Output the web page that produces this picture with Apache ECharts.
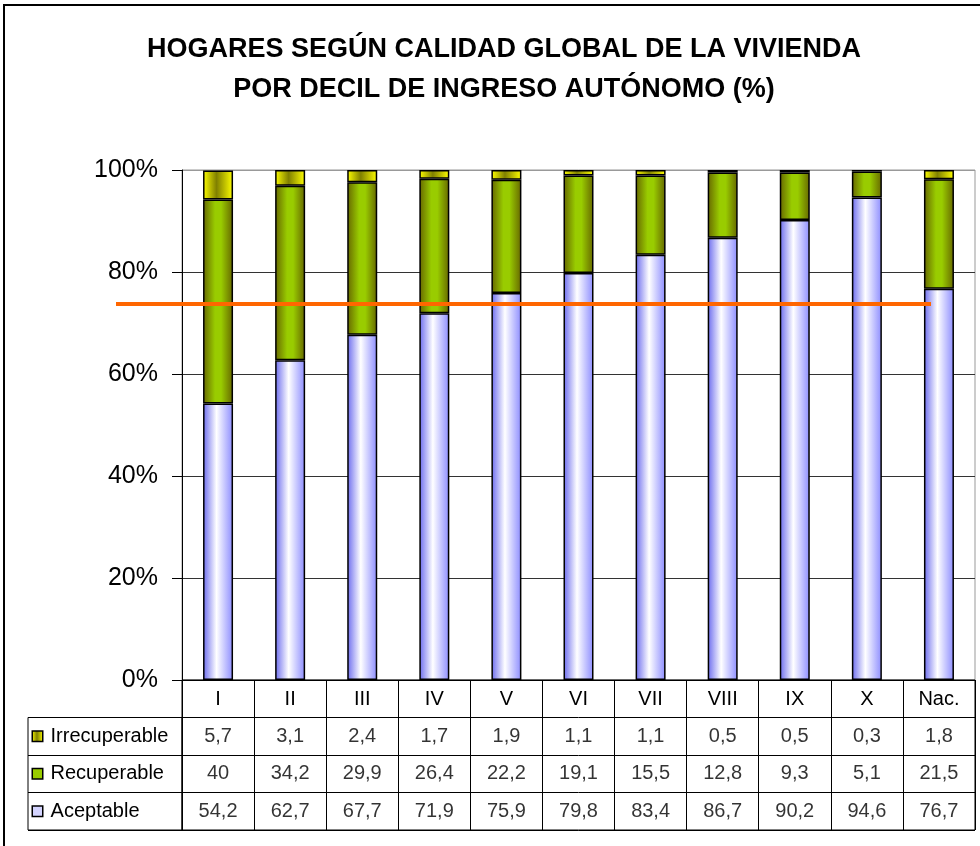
<!DOCTYPE html>
<html lang="es">
<head>
    <meta charset="UTF-8">
    <title>Hogares según calidad global de la vivienda</title>
    <script src="https://cdn.jsdelivr.net/npm/echarts@6.0.0/dist/echarts.min.js"></script>
    <style>
        html, body { margin: 0; padding: 0; background: #fff; }
    </style>
</head>
<body>
<div id="main" style="width: 980px; height: 846px;"></div>

<script type="text/javascript">

    // datos (%)
    var categories = ['I', 'II', 'III', 'IV', 'V', 'VI', 'VII', 'VIII', 'IX', 'X', 'Nac.'];
    var aceptable = [54.2, 62.7, 67.7, 71.9, 75.9, 79.8, 83.4, 86.7, 90.2, 94.6, 76.7];
    var recuperable = [40, 34.2, 29.9, 26.4, 22.2, 19.1, 15.5, 12.8, 9.3, 5.1, 21.5];
    var irrecuperable = [5.7, 3.1, 2.4, 1.7, 1.9, 1.1, 1.1, 0.5, 0.5, 0.3, 1.8];
    var rowNames = ['Irrecuperable', 'Recuperable', 'Aceptable'];
    var referenceLine = 73.7;

    var FONT = 'Arial, "Liberation Sans", sans-serif';

    function hGrad(stops) {
        return new echarts.graphic.LinearGradient(0, 0, 1, 0, stops.map(function (s) {
            return { offset: s[0], color: s[1] };
        }));
    }

    var fillAceptable = hGrad([[0, '#6a6aee'], [0.45, '#ffffff'], [1, '#8c8cff']]);
    var fillRecuperable = hGrad([[0, '#666600'], [0.4, '#99cc00'], [0.6, '#99cc00'], [1, '#666600']]);
    var fillIrrecuperable = hGrad([[0, '#ffff00'], [0.45, '#808000'], [1, '#ffff00']]);

    function fmt(v) {
        return String(v).replace('.', ',');
    }

    // celdas de la tabla
    var tableData = [];
    var rows = [irrecuperable, recuperable, aceptable];
    for (var r = 0; r < rows.length; r++) {
        for (var i = 0; i < categories.length; i++) {
            tableData.push([categories[i], rowNames[r], rows[r][i]]);
        }
    }

    function keyStyle(fill) {
        return { width: 9, height: 9, backgroundColor: fill, borderColor: '#000', borderWidth: 1.5 };
    }

    var myChart = echarts.init(document.getElementById('main'));

    myChart.setOption({
        animation: false,
        textStyle: { fontFamily: FONT },
        graphic: [{
            type: 'rect',
            shape: { x: 4, y: 5, width: 1100, height: 1000 },
            style: { fill: 'none', stroke: '#000', lineWidth: 2 },
            silent: true
        }, {
            type: 'text',
            x: 504,
            y: 30,
            silent: true,
            style: {
                text: 'HOGARES SEGÚN CALIDAD GLOBAL DE LA VIVIENDA\nPOR DECIL DE INGRESO AUTÓNOMO (%)',
                align: 'center',
                fontFamily: FONT,
                fontSize: 27,
                fontWeight: 'bold',
                lineHeight: 40,
                fill: '#000'
            }
        }],
        grid: [
            { left: 182, right: 5, top: 170, bottom: 166, show: true, borderColor: '#999', borderWidth: 1, outerBoundsMode: 'none' },
            { left: 182, right: 5, top: 680, height: 150, show: true, borderColor: '#000', borderWidth: 1, outerBoundsMode: 'none' },
            { left: 28, width: 154, top: 717.5, height: 112.5, show: true, borderColor: '#000', borderWidth: 1, outerBoundsMode: 'none' }
        ],
        xAxis: [
            {
                gridIndex: 0,
                type: 'category',
                data: categories,
                axisLine: { lineStyle: { color: '#000', width: 1 } },
                axisTick: { show: false },
                axisLabel: { interval: 0, margin: 9, fontSize: 20, color: '#000', fontFamily: FONT }
            },
            {
                gridIndex: 1,
                type: 'category',
                data: categories,
                axisLine: { show: false },
                axisTick: { show: false },
                axisLabel: { show: false },
                splitLine: { show: true, interval: 0, lineStyle: { color: '#000', width: 1 } }
            },
            {
                gridIndex: 2,
                type: 'value',
                show: false
            }
        ],
        yAxis: [
            {
                gridIndex: 0,
                type: 'value',
                min: 0,
                max: 100,
                interval: 20,
                axisLine: { show: true, lineStyle: { color: '#000', width: 1 } },
                axisTick: { show: true, length: 10, lineStyle: { color: '#000' } },
                axisLabel: { formatter: '{value}%', fontSize: 25, color: '#000', margin: 24, fontFamily: FONT },
                splitLine: { show: true, lineStyle: { color: ['#333', '#333', '#333', '#333', '#333', '#999'], width: 1 } }
            },
            {
                gridIndex: 1,
                type: 'category',
                inverse: true,
                data: [''].concat(rowNames),
                axisLine: { show: false },
                axisTick: { show: false },
                axisLabel: { show: false },
                splitLine: { show: true, interval: 0, lineStyle: { color: '#000', width: 1 } }
            },
            {
                gridIndex: 2,
                type: 'category',
                inverse: true,
                data: rowNames,
                axisLine: { show: false },
                axisTick: { show: false },
                splitLine: { show: true, interval: 0, lineStyle: { color: '#000', width: 1 } },
                axisLabel: {
                    inside: true,
                    margin: 5,
                    interval: 0,
                    fontSize: 20,
                    color: '#000',
                    fontFamily: FONT,
                    formatter: function (v) {
                        var k = v === 'Irrecuperable' ? 'k1' : (v === 'Recuperable' ? 'k2' : 'k3');
                        return '{' + k + '|}{t| ' + v + '}';
                    },
                    rich: {
                        k1: keyStyle(fillIrrecuperable),
                        k2: keyStyle('#99cc00'),
                        k3: keyStyle('#d4d4ff'),
                        t: { fontSize: 20, color: '#000', fontFamily: FONT, padding: [0, 0, 0, 3] }
                    }
                }
            }
        ],
        series: [
            {
                name: 'Aceptable',
                type: 'bar',
                stack: 'total',
                xAxisIndex: 0,
                yAxisIndex: 0,
                barWidth: 30,
                data: aceptable,
                itemStyle: { color: fillAceptable, borderColor: '#000', borderWidth: 1.5 }
            },
            {
                name: 'Recuperable',
                type: 'bar',
                stack: 'total',
                xAxisIndex: 0,
                yAxisIndex: 0,
                barWidth: 30,
                data: recuperable,
                itemStyle: { color: fillRecuperable, borderColor: '#000', borderWidth: 1.5 }
            },
            {
                name: 'Irrecuperable',
                type: 'bar',
                stack: 'total',
                xAxisIndex: 0,
                yAxisIndex: 0,
                barWidth: 30,
                data: irrecuperable,
                itemStyle: { color: fillIrrecuperable, borderColor: '#000', borderWidth: 1.5 },
                markLine: {
                    silent: true,
                    z: 10,
                    symbol: ['none', 'none'],
                    label: { show: false },
                    lineStyle: { color: '#ff6600', width: 4, type: 'solid' },
                    data: [[
                        { xAxis: 'I', yAxis: referenceLine, x: 116 },
                        { xAxis: 'Nac.', yAxis: referenceLine, x: 931 }
                    ]]
                }
            },
            {
                name: 'tabla',
                type: 'scatter',
                xAxisIndex: 1,
                yAxisIndex: 1,
                silent: true,
                symbolSize: 1,
                itemStyle: { color: 'rgba(0,0,0,0)' },
                data: tableData,
                label: {
                    show: true,
                    position: 'inside',
                    fontSize: 20,
                    color: '#000',
                    fontFamily: FONT,
                    formatter: function (p) { return fmt(p.value[2]); }
                }
            }
        ]
    });

</script>
</body>
</html>
